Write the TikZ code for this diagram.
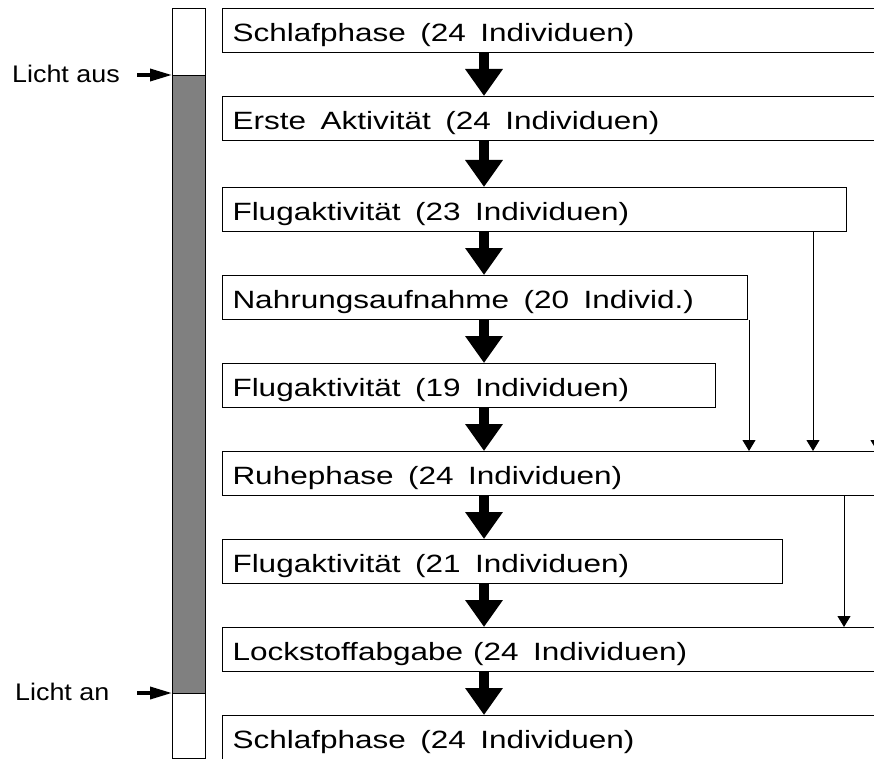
\documentclass[tikz,border=0pt]{standalone}
\usepackage{fontspec}
\usepackage{graphicx}
\usetikzlibrary{arrows.meta}
\newfontfamily\boxfont{Liberation Sans}
\newcommand{\ptext}[1]{\scalebox{1.26}[1]{\spaceskip=11.5pt\relax #1}}
\newcommand{\ltext}[1]{\scalebox{1.12}[1]{#1}}

\tikzset{
  phase/.style={draw, line width=1pt, anchor=north west, minimum height=44pt,
    inner xsep=10pt, inner ysep=0pt, align=left, text height=22pt, text depth=0pt,
    font=\boxfont\fontsize{25}{28}\selectfont},
  bigarrow/.style={line width=10pt, -{Triangle[length=27pt, width=36pt]}},
  thinarrow/.style={line width=1pt, -{Triangle[length=11pt, width=13pt]}},
  lightarrow/.style={line width=3.5pt, -{Triangle[length=22pt, width=12pt]}},
  lightlabel/.style={anchor=west, inner sep=0pt, font=\boxfont\fontsize{24}{28}\selectfont}
}

\begin{document}
\begin{tikzpicture}[x=1pt, y=-1pt, line cap=butt, line join=miter]
\useasboundingbox (0,0) rectangle (874,759);
\clip (0,0) rectangle (874,759);
% light bar
\fill[gray] (172,76) rectangle (205,693);
\node[draw, line width=1pt, anchor=north west, minimum width=33pt, minimum height=750pt, inner sep=0pt] (bar) at (172,8) {};
\draw[line width=1pt] (172,76) -- (205,76);
\draw[line width=1pt] (172,693) -- (205,693);
\node[lightlabel] (aus) at (12,74) {\ltext{Licht aus}};
\node[lightlabel] (an) at (15,692) {\ltext{Licht an}};
\coordinate (ausstart) at (137,75);
\coordinate (anstart) at (137,693);
\draw[lightarrow] (ausstart) -- (ausstart -| bar.west);
\draw[lightarrow] (anstart) -- (anstart -| bar.west);
% phases
\node[phase, text width=650pt] (s1) at (222,8) {\ptext{Schlafphase (24 Individuen)}};
\node[phase, text width=650pt] (e2) at (222,96) {\ptext{Erste Aktivit\"at (24 Individuen)}};
\node[phase, text width=604pt] (f3) at (222,187) {\ptext{Flugaktivit\"at (23 Individuen)}};
\node[phase, text width=505pt] (n4) at (222,275) {\ptext{Nahrungsaufnahme (20 Individ.)}};
\node[phase, text width=473pt] (f5) at (222,363) {\ptext{Flugaktivit\"at (19 Individuen)}};
\node[phase, text width=650pt] (r6) at (222,451) {\ptext{Ruhephase (24 Individuen)}};
\node[phase, text width=540pt] (f7) at (222,539) {\ptext{Flugaktivit\"at (21 Individuen)}};
\node[phase, text width=650pt] (l8) at (222,627) {\ptext{Lockstoffabgabe\hspace{-3.5pt} (24 Individuen)}};
\node[phase, text width=650pt] (s9) at (222,715) {\ptext{Schlafphase (24 Individuen)}};
% main sequence
\coordinate (mid) at (484,0);
\foreach \a/\b in {s1/e2, e2/f3, f3/n4, n4/f5, f5/r6, r6/f7, f7/l8, l8/s9}
  \draw[bigarrow] (\a.south -| mid) -- (\b.north -| mid);
% shortcuts
\coordinate (skipa) at (749,0);
\coordinate (skipb) at (813,0);
\coordinate (skipc) at (877,0);
\coordinate (skipd) at (844,0);
\draw[thinarrow] (n4.south -| skipa) -- (r6.north -| skipa);
\draw[thinarrow] (f3.south -| skipb) -- (r6.north -| skipb);
\draw[thinarrow] (e2.south -| skipc) -- (r6.north -| skipc);
\draw[thinarrow] (r6.south -| skipd) -- (l8.north -| skipd);
\end{tikzpicture}
\end{document}
